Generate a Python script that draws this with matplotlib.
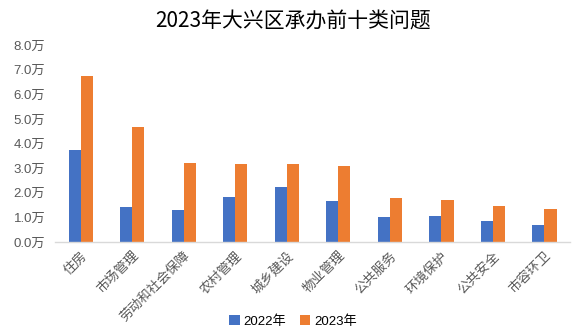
import matplotlib
matplotlib.use("Agg")
import matplotlib.pyplot as plt
import numpy as np

plt.rcParams['font.family'] = ['Liberation Sans', 'Noto Sans CJK SC', 'DejaVu Sans']

categories = ['住房', '市场管理', '劳动和社会保障', '农村管理', '城乡建设',
              '物业管理', '公共服务', '环境保护', '公共安全', '市容环卫']
values_2022 = [3.73, 1.42, 1.30, 1.83, 2.23, 1.66, 1.01, 1.06, 0.85, 0.69]
values_2023 = [6.74, 4.67, 3.21, 3.17, 3.17, 3.09, 1.79, 1.70, 1.46, 1.34]
series_names = ['2022年', '2023年']
yticks = [0, 1, 2, 3, 4, 5, 6, 7, 8]
ytick_labels = [f'{v:.1f}万' for v in yticks]

fig = plt.figure(figsize=(5.86, 3.34), dpi=100)
ax = fig.add_axes([0.094, 0.275, 0.879, 0.59])

x = np.arange(len(categories))
w = 0.235
ax.bar(x - w/2, values_2022, w, color='#4472C4', label=series_names[0])
ax.bar(x + w/2, values_2023, w, color='#ED7D31', label=series_names[1])

ax.set_xlim(-0.5, len(categories) - 0.5)
ax.set_ylim(0, 8)
ax.set_yticks(yticks)
ax.set_yticklabels(ytick_labels, color='#595959', fontsize=9.5)
ax.set_xticks(x)
ax.set_xticklabels(categories, rotation=45, ha='right', rotation_mode='anchor',
                   color='#595959', fontsize=9.5,
                   family=['Noto Sans CJK SC', 'DejaVu Sans'])
ax.tick_params(axis='y', length=0, pad=7)
ax.tick_params(axis='x', length=0, pad=5)
for s in ['top', 'right', 'left']:
    ax.spines[s].set_visible(False)
ax.spines['bottom'].set_color('#D9D9D9')
ax.spines['bottom'].set_linewidth(1.0)

fig.text(0.5, 0.935, '2023年大兴区承办前十类问题', ha='center', va='center',
         fontsize=15, color='black', family=['Noto Sans CJK SC', 'DejaVu Sans'])

fig.legend(loc='center', bbox_to_anchor=(0.5, 0.038), ncol=2, frameon=False,
           fontsize=9.5, handlelength=0.8, handleheight=0.8, handletextpad=0.3,
           columnspacing=1.0)

fig.savefig('out.png', dpi=100)
